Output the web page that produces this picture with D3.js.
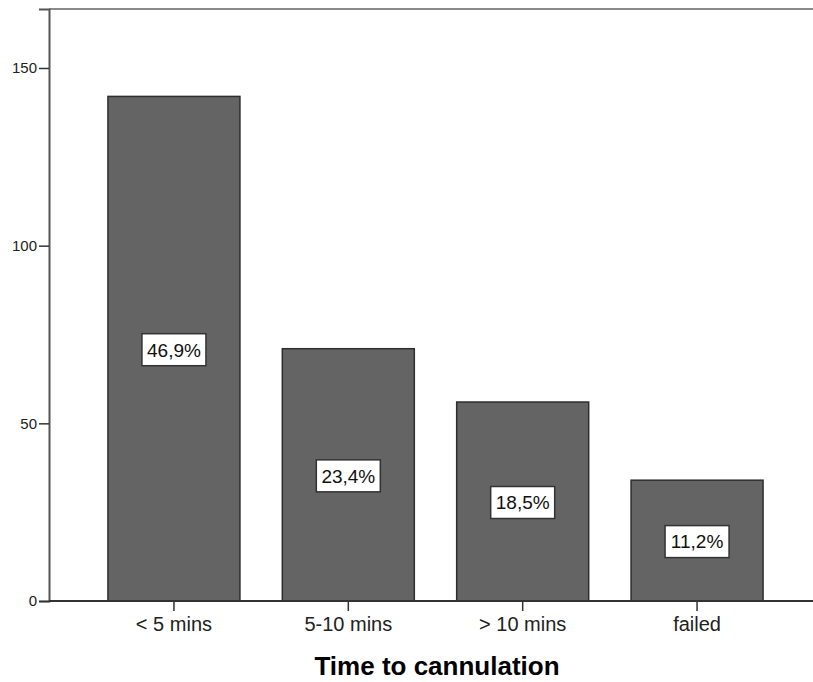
<!DOCTYPE html>
<html><head><meta charset="utf-8">
<script src="https://cdn.jsdelivr.net/npm/d3@7"></script>
<style>body{margin:0;background:#fff}svg{display:block}</style>
</head><body>
<script>
const categories = ["< 5 mins", "5-10 mins", "> 10 mins", "failed"];
const counts = [142, 71, 56, 34];
const percentLabels = ["46,9%", "23,4%", "18,5%", "11,2%"];
const yTicks = [0, 50, 100, 150];
const xTitle = "Time to cannulation";

const W = 813, H = 682;
const svg = d3.select("body").append("svg").attr("width", W).attr("height", H);

const x = d3.scaleBand().domain(categories).range([49, 822]).paddingInner(0.243).paddingOuter(0.338);
const y = d3.scaleLinear().domain([0, 166.6]).range([601, 9]);

// top frame line
svg.append("line").attr("x1", 49).attr("x2", W).attr("y1", y(166.6)).attr("y2", y(166.6))
  .attr("stroke", "#8a8a8a").attr("stroke-width", 2);

// bars
svg.selectAll("rect.bar").data(counts).enter().append("rect")
  .attr("class", "bar")
  .attr("x", (d, i) => x(categories[i]))
  .attr("width", x.bandwidth())
  .attr("y", d => y(d))
  .attr("height", d => y(0) - y(d))
  .attr("fill", "#646464").attr("stroke", "#2e2e2e").attr("stroke-width", 1.5);

// percentage labels
const lab = svg.selectAll("g.lab").data(counts).enter().append("g")
  .attr("transform", (d, i) => `translate(${x(categories[i]) + x.bandwidth() / 2},${(y(d) + y(0)) / 2 + 1})`);
lab.append("rect").attr("x", -32).attr("y", -16).attr("width", 64).attr("height", 32)
  .attr("fill", "#fff").attr("stroke", "#333").attr("stroke-width", 1.5);
lab.append("text").text((d, i) => percentLabels[i])
  .attr("text-anchor", "middle").attr("dy", "0.36em")
  .attr("font-family", "Liberation Sans, Arial, sans-serif").attr("font-size", 19).attr("fill", "#111");

// y axis
const yAxis = svg.append("g").attr("transform", "translate(49,0)")
  .call(d3.axisLeft(y).tickValues(yTicks).tickSize(10).tickPadding(2).tickFormat(d3.format("d")));
yAxis.select(".domain").attr("stroke", "#555").attr("stroke-width", 2);
yAxis.selectAll(".tick line").attr("stroke", "#333").attr("stroke-width", 1.5);
yAxis.selectAll(".tick text").attr("font-family", "Liberation Sans, Arial, sans-serif")
  .attr("font-size", 15).attr("fill", "#222");

// x axis
const xAxis = svg.append("g").attr("transform", `translate(0,${y(0)})`)
  .call(d3.axisBottom(x).tickSize(10).tickPadding(6).tickSizeOuter(0));
xAxis.select(".domain").remove();
xAxis.selectAll(".tick line").attr("stroke", "#333").attr("stroke-width", 1.5);
xAxis.selectAll(".tick text").attr("font-family", "Liberation Sans, Arial, sans-serif")
  .attr("font-size", 20).attr("fill", "#222");
svg.append("line").attr("x1", 49).attr("x2", W).attr("y1", y(0)).attr("y2", y(0))
  .attr("stroke", "#333").attr("stroke-width", 2);

svg.append("text").text(xTitle).attr("x", 437).attr("y", 675).attr("text-anchor", "middle")
  .attr("font-family", "Liberation Sans, Arial, sans-serif").attr("font-weight", "bold")
  .attr("font-size", 26).attr("fill", "#000");
</script>
</body></html>
